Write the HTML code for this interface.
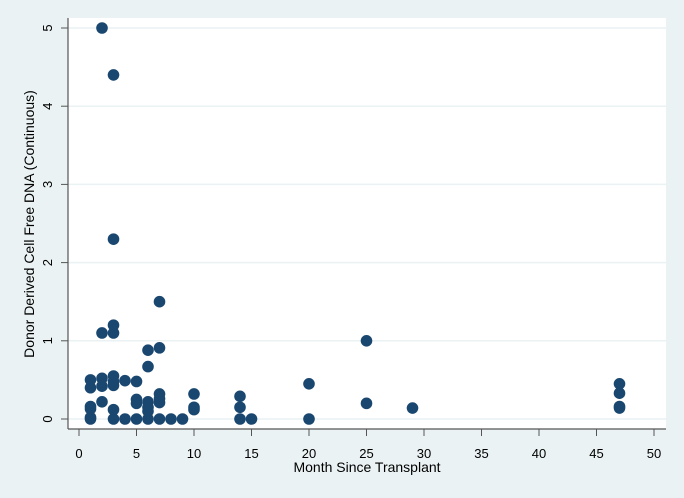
<!DOCTYPE html>
<html><head><meta charset="utf-8"><style>
html,body{margin:0;padding:0;background:#eaf2f3;}
svg{display:block;font-family:"Liberation Sans",sans-serif;}
</style></head><body>
<svg id="s" width="684" height="498" xmlns="http://www.w3.org/2000/svg">
<rect width="684" height="498" fill="#eaf2f3"/>
<rect x="68" y="18" width="598" height="411" fill="#fff"/>
<g id="g"></g>
<line x1="68" y1="18" x2="68" y2="429" stroke="#555" stroke-width="1.2"/>
<line x1="68" y1="429" x2="666" y2="429" stroke="#555" stroke-width="1.2"/>
<text x="0" y="0" transform="translate(34,224) rotate(-90)" text-anchor="middle" font-size="14" fill="#000">Donor Derived Cell Free DNA (Continuous)</text>
<text x="367" y="472" text-anchor="middle" font-size="14" fill="#000">Month Since Transplant</text>
</svg>
<script>
var g=document.getElementById('g'),h='';
function X(v){return 79+v*11.5;}function Y(v){return 419-v*78.2;}
for(var i=0;i<=5;i++){var y=Y(i);
h+='<line x1="68" x2="666" y1="'+y+'" y2="'+y+'" stroke="#eaf2f3" stroke-width="1.5"/>';
h+='<line x1="61" x2="68" y1="'+y+'" y2="'+y+'" stroke="#555"/>';
h+='<text x="48" y="'+y+'" transform="rotate(-90 48 '+y+')" text-anchor="middle" dy="4" font-size="13">'+i+'</text>';}
for(var i=0;i<=50;i+=5){var x=X(i);
h+='<line x1="'+x+'" x2="'+x+'" y1="429" y2="436" stroke="#555"/>';
h+='<text x="'+x+'" y="458" text-anchor="middle" font-size="13">'+i+'</text>';}
var d={1:[0,0.02,0.13,0.16,0.4,0.5],2:[5,1.1,0.52,0.42,0.22],3:[4.4,2.3,1.2,1.1,0.55,0.48,0.43,0.12,0],4:[0.49,0],5:[0.48,0.25,0.2,0],6:[0.88,0.67,0.22,0.15,0.1,0],7:[1.5,0.91,0.32,0.26,0.21,0],8:[0],9:[0],10:[0.32,0.15,0.12],14:[0.29,0.15,0],15:[0],20:[0.45,0],25:[1,0.2],29:[0.14],47:[0.45,0.33,0.16,0.14]};
for(var k in d)d[k].forEach(function(v){h+='<circle cx="'+X(+k)+'" cy="'+Y(v)+'" r="5.8" fill="#1a476f"/>';});
g.innerHTML=h;
</script>
</body></html>
